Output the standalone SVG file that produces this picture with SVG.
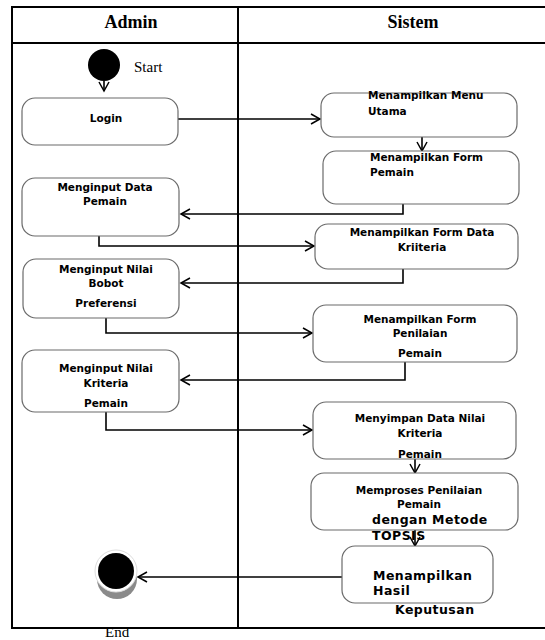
<svg xmlns="http://www.w3.org/2000/svg" width="545" height="640" viewBox="0 0 545 640">
<style>
.frame{fill:none;stroke:#000;stroke-width:2}
.box{fill:#fff;stroke:#6b6b6b;stroke-width:1.2}
.t{font-family:"DejaVu Sans",Verdana,sans-serif;font-weight:bold;font-size:10.5px;fill:#000}
.big{font-size:12.5px;letter-spacing:0.45px}
.h{font-family:"Liberation Serif","Times New Roman",serif;font-weight:bold;font-size:18px;fill:#000}
.s{font-family:"Liberation Serif","Times New Roman",serif;font-size:15px;fill:#000}
.c{fill:none;stroke:#000;stroke-width:1.6}
</style>
<defs>
<marker id="a" markerUnits="userSpaceOnUse" markerWidth="12" markerHeight="12" refX="10" refY="6" orient="auto">
<path d="M1,1 L10,6 L1,11" fill="none" stroke="#000" stroke-width="1.5"/>
</marker>
</defs>
<g id="lanes">
<line x1="12" y1="7" x2="545" y2="7" class="frame"/>
<line x1="12" y1="43" x2="545" y2="43" class="frame" stroke-width="2.5"/>
<line x1="12" y1="628" x2="545" y2="628" class="frame"/>
<line x1="12" y1="6" x2="12" y2="629" class="frame"/>
<line x1="238" y1="6" x2="238" y2="629" class="frame"/>
<text x="131" y="28" text-anchor="middle" class="h">Admin</text>
<text x="413" y="28" text-anchor="middle" class="h">Sistem</text>
</g>
<g id="connectors">
<line x1="104" y1="81" x2="104" y2="91" class="c" marker-end="url(#a)"/>
<line x1="178" y1="119" x2="320" y2="119" class="c" marker-end="url(#a)"/>
<line x1="422" y1="137" x2="422" y2="151" class="c" marker-end="url(#a)"/>
<polyline points="403,204 403,214 181,214" class="c" marker-end="url(#a)"/>
<polyline points="99,236 99,246 314,246" class="c" marker-end="url(#a)"/>
<polyline points="403,269 403,283 181,283" class="c" marker-end="url(#a)"/>
<polyline points="106,318 106,333 312,333" class="c" marker-end="url(#a)"/>
<polyline points="405,362 405,380 181,380" class="c" marker-end="url(#a)"/>
<polyline points="106,412 106,430 312,430" class="c" marker-end="url(#a)"/>
<line x1="415" y1="459" x2="415" y2="473" class="c" marker-end="url(#a)"/>
<line x1="415" y1="530" x2="415" y2="546" class="c" marker-end="url(#a)"/>
<line x1="342" y1="577" x2="138" y2="577" class="c" marker-end="url(#a)"/>
</g>
<g id="start">
<circle cx="104" cy="65" r="16" fill="#000"/>
<text x="134" y="72" class="s">Start</text>
</g>
<g id="login">
<rect x="22" y="98" width="156" height="47" rx="13" class="box"/>
<text x="106" y="122" text-anchor="middle" class="t">Login</text>
</g>
<g id="menu-utama">
<rect x="321" y="93" width="196" height="44" rx="13" class="box"/>
<text x="368" y="99" class="t">Menampilkan Menu</text>
<text x="368" y="115" class="t">Utama</text>
</g>
<g id="form-pemain">
<rect x="323" y="151" width="196" height="53" rx="13" class="box"/>
<text x="370" y="161" class="t">Menampilkan Form</text>
<text x="370" y="176" class="t">Pemain</text>
</g>
<g id="input-data-pemain">
<rect x="22" y="178" width="157" height="58" rx="13" class="box"/>
<text x="105" y="191" text-anchor="middle" class="t">Menginput Data</text>
<text x="105" y="205" text-anchor="middle" class="t">Pemain</text>
</g>
<g id="form-data-kriteria">
<rect x="315" y="224" width="203" height="45" rx="13" class="box"/>
<text x="422" y="236" text-anchor="middle" class="t">Menampilkan Form Data</text>
<text x="422" y="251" text-anchor="middle" class="t">Kriiteria</text>
</g>
<g id="input-bobot">
<rect x="23" y="259" width="156" height="59" rx="13" class="box"/>
<text x="106" y="273" text-anchor="middle" class="t">Menginput Nilai</text>
<text x="106" y="287" text-anchor="middle" class="t">Bobot</text>
<text x="106" y="307" text-anchor="middle" class="t">Preferensi</text>
</g>
<g id="form-penilaian">
<rect x="313" y="305" width="204" height="57" rx="13" class="box"/>
<text x="420" y="323" text-anchor="middle" class="t">Menampilkan Form</text>
<text x="420" y="337" text-anchor="middle" class="t">Penilaian</text>
<text x="420" y="357" text-anchor="middle" class="t">Pemain</text>
</g>
<g id="input-kriteria">
<rect x="22" y="350" width="157" height="62" rx="13" class="box"/>
<text x="106" y="372" text-anchor="middle" class="t">Menginput Nilai</text>
<text x="106" y="387" text-anchor="middle" class="t">Kriteria</text>
<text x="106" y="407" text-anchor="middle" class="t">Pemain</text>
</g>
<g id="simpan">
<rect x="313" y="402" width="203" height="57" rx="13" class="box"/>
<text x="420" y="422" text-anchor="middle" class="t">Menyimpan Data Nilai</text>
<text x="420" y="437" text-anchor="middle" class="t">Kriteria</text>
<text x="420" y="458" text-anchor="middle" class="t">Pemain</text>
</g>
<g id="proses">
<rect x="311" y="473" width="207" height="57" rx="13" class="box"/>
<text x="419" y="494" text-anchor="middle" class="t" font-size="10">Memproses Penilaian</text>
<text x="419" y="508" text-anchor="middle" class="t" font-size="10">Pemain</text>
<text x="372" y="524" class="t big">dengan Metode</text>
<text x="372" y="540" class="t big">TOPSIS</text>
</g>
<g id="hasil">
<rect x="342" y="546" width="151" height="57" rx="13" class="box"/>
<text x="373" y="580" class="t big">Menampilkan</text>
<text x="373" y="595" class="t big">Hasil</text>
<text x="395" y="614" class="t big">Keputusan</text>
</g>
<g id="end">
<circle cx="117" cy="579" r="20" fill="#8a8a8a"/>
<circle cx="116" cy="571" r="21" fill="#fff" stroke="#ddd" stroke-width="1"/>
<circle cx="116" cy="571" r="18" fill="#000"/>
<text x="105" y="637" class="s">End</text>
</g>
</svg>
